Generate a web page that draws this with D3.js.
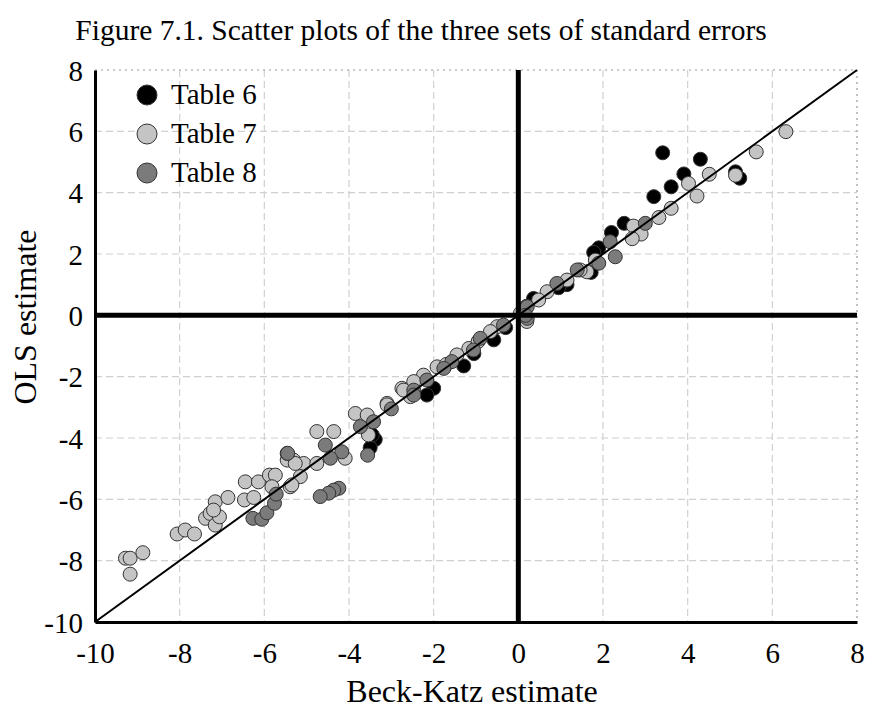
<!DOCTYPE html>
<html>
<head>
<meta charset="utf-8">
<script src="https://cdn.jsdelivr.net/npm/d3@7"></script>
<style>
  body { margin: 0; background: #fff; }
  svg text { font-family: "Liberation Serif", "Times New Roman", serif; }
</style>
</head>
<body>
<div id="chart"></div>
<script>
var title = "Figure 7.1. Scatter plots of the three sets of standard errors";
var xLabel = "Beck-Katz estimate";
var yLabel = "OLS estimate";
var ticks = [-10, -8, -6, -4, -2, 0, 2, 4, 6, 8];
var seriesNames = ["Table 6", "Table 7", "Table 8"];
var seriesFill = ["#000000", "#c4c4c4", "#7b7b7b"];

// [Beck-Katz, OLS]
var table6 = [
  [3.41, 5.30], [4.30, 5.09], [3.91, 4.61], [3.61, 4.19], [3.20, 3.87], [5.23, 4.47],
  [5.13, 4.68], [2.50, 3.00], [2.20, 2.70], [1.90, 2.20], [1.78, 2.05], [1.72, 1.40],
  [1.15, 1.00], [0.95, 0.90], [0.36, 0.55], [0.20, 0.30], [-0.58, -0.80], [-1.29, -1.65],
  [-2.00, -2.38], [-2.16, -2.60], [-3.38, -4.05], [-3.50, -4.32], [-3.45, -3.90],
  [-0.30, -0.40], [-1.05, -1.25]
];
var table7 = [
  [6.32, 5.99], [5.62, 5.33], [4.51, 4.60], [4.02, 4.30], [4.22, 3.89], [5.13, 4.57],
  [3.61, 3.49], [3.32, 3.19], [2.72, 2.91], [2.90, 2.65], [2.69, 2.50], [1.82, 1.80],
  [1.62, 1.42], [1.15, 1.15], [0.68, 0.77], [0.48, 0.50], [0.05, 0.07], [1.46, 1.48],
  [0.20, -0.20], [-0.50, -0.37], [-0.66, -0.53], [-1.17, -1.08], [-1.45, -1.29],
  [-1.92, -1.68], [-2.24, -1.95], [-2.47, -2.16], [-2.75, -2.38], [-2.55, -2.65],
  [-3.10, -2.87], [-3.85, -3.20], [-3.57, -3.25], [-3.10, -2.92], [-2.71, -2.44],
  [-3.54, -3.90], [-4.76, -3.79], [-4.36, -3.79], [-4.09, -4.66], [-5.31, -4.72],
  [-5.07, -4.83], [-4.76, -4.83], [-5.15, -5.26], [-5.39, -5.59], [-9.17, -8.44],
  [-9.28, -7.92], [-9.17, -7.92], [-8.87, -7.74], [-8.06, -7.13], [-7.87, -7.00],
  [-7.65, -7.13], [-7.39, -6.62], [-7.28, -6.46], [-7.16, -6.84], [-7.06, -6.57],
  [-7.16, -6.08], [-6.86, -5.94], [-7.20, -6.35], [-6.45, -5.43], [-6.47, -6.02],
  [-6.25, -5.94], [-6.14, -5.43], [-5.88, -5.21], [-5.74, -5.21], [-5.82, -5.59],
  [-5.35, -5.53], [-5.46, -4.72], [-5.27, -4.83], [-1.70, -1.60], [-0.95, -0.85]
];
var table8 = [
  [3.00, 3.00], [2.17, 2.40], [2.29, 1.91], [1.90, 1.70], [1.39, 1.48], [0.91, 1.04],
  [0.21, 0.28], [0.21, -0.10], [0.17, 0.00], [-0.35, -0.32], [-0.90, -0.75],
  [-1.06, -1.13], [-1.57, -1.51], [-1.76, -1.73], [-2.16, -2.11], [-2.47, -2.44],
  [-2.47, -2.60], [-3.73, -3.63], [-3.42, -3.47], [-3.56, -4.56], [-4.56, -4.23],
  [-4.17, -4.45], [-4.44, -4.66], [-5.46, -4.50], [-4.24, -5.64], [-4.36, -5.70],
  [-4.48, -5.80], [-4.68, -5.91], [-6.27, -6.62], [-6.06, -6.65], [-5.94, -6.44],
  [-5.76, -6.13], [-5.72, -5.83], [-5.45, -4.50], [-3.00, -3.05]
];
var allSeries = [table6, table7, table8];

var width = 870, height = 708;
var serif = "'Liberation Serif', 'Times New Roman', serif";
var svg = d3.select("#chart").append("svg")
    .attr("width", width)
    .attr("height", height);

var x = d3.scaleLinear().domain([-10, 8]).range([95, 857]);
var y = d3.scaleLinear().domain([-10, 8]).range([622, 70]);

svg.append("text")
    .attr("x", 421).attr("y", 40)
    .attr("text-anchor", "middle")
    .style("font-family", serif)
    .style("font-size", "29.5px")
    .text(title);

// grid
var inner = ticks.filter(function(t) { return t > -10 && t < 8; });
svg.selectAll(".vgrid").data(inner).enter().append("line")
    .attr("x1", function(d) { return x(d); }).attr("x2", function(d) { return x(d); })
    .attr("y1", y(8)).attr("y2", y(-10))
    .attr("stroke", "#d0d0d0").attr("stroke-width", 1.2).attr("stroke-dasharray", "7,4");
svg.selectAll(".hgrid").data(inner).enter().append("line")
    .attr("y1", function(d) { return y(d); }).attr("y2", function(d) { return y(d); })
    .attr("x1", x(-10)).attr("x2", x(8))
    .attr("stroke", "#d0d0d0").attr("stroke-width", 1.2).attr("stroke-dasharray", "7,4");

// dotted top and right borders
svg.append("line").attr("x1", x(-10)).attr("x2", x(8)).attr("y1", y(8)).attr("y2", y(8))
    .attr("stroke", "#999").attr("stroke-width", 1.2).attr("stroke-dasharray", "2,4");
svg.append("line").attr("x1", x(8)).attr("x2", x(8)).attr("y1", y(8)).attr("y2", y(-10))
    .attr("stroke", "#999").attr("stroke-width", 1.2).attr("stroke-dasharray", "2,4");

// points
allSeries.forEach(function(s, i) {
  svg.append("g").selectAll("circle").data(s).enter().append("circle")
      .attr("cx", function(d) { return x(d[0]); })
      .attr("cy", function(d) { return y(d[1]); })
      .attr("r", 7)
      .attr("fill", seriesFill[i])
      .attr("stroke", "#333")
      .attr("stroke-width", 1);
});

// zero lines
svg.append("line").attr("x1", x(0)).attr("x2", x(0)).attr("y1", y(8)).attr("y2", y(-10))
    .attr("stroke", "#000").attr("stroke-width", 5);
svg.append("line").attr("x1", x(-10)).attr("x2", x(8)).attr("y1", y(0)).attr("y2", y(0))
    .attr("stroke", "#000").attr("stroke-width", 5);

// diagonal y = x
svg.append("line")
    .attr("x1", x(-10)).attr("y1", y(-10))
    .attr("x2", x(8)).attr("y2", y(8))
    .attr("stroke", "#000").attr("stroke-width", 2);

// axes
var fmt = function(d) { return String(d); };
var xAxis = svg.append("g").attr("transform", "translate(0," + y(-10) + ")")
    .call(d3.axisBottom(x).tickValues(ticks).tickFormat(fmt).tickSize(0).tickPadding(20));
var yAxis = svg.append("g").attr("transform", "translate(" + x(-10) + ",0)")
    .call(d3.axisLeft(y).tickValues(ticks).tickFormat(fmt).tickSize(0).tickPadding(12));
[xAxis, yAxis].forEach(function(a) {
  a.attr("font-family", null).attr("font-size", null);
  a.select(".domain").attr("stroke", "#000").attr("stroke-width", 3);
  a.selectAll("text")
      .style("font-family", serif)
      .style("font-size", "29px")
      .attr("fill", "#000");
});
yAxis.selectAll("text").attr("dy", "0.35em");

svg.append("text")
    .attr("x", 472).attr("y", 702)
    .attr("text-anchor", "middle")
    .style("font-family", serif)
    .style("font-size", "32px")
    .text(xLabel);
svg.append("text")
    .attr("transform", "translate(36,317) rotate(-90)")
    .attr("text-anchor", "middle")
    .style("font-family", serif)
    .style("font-size", "32px")
    .text(yLabel);

// legend
var legend = svg.append("g");
seriesNames.forEach(function(n, i) {
  var ly = 95 + i * 39;
  legend.append("circle").attr("cx", 147).attr("cy", ly).attr("r", 10)
      .attr("fill", seriesFill[i]).attr("stroke", "#333").attr("stroke-width", 1);
  legend.append("text").attr("x", 171).attr("y", ly + 9)
      .style("font-family", serif)
      .style("font-size", "29px")
      .text(n);
});
</script>
</body>
</html>
